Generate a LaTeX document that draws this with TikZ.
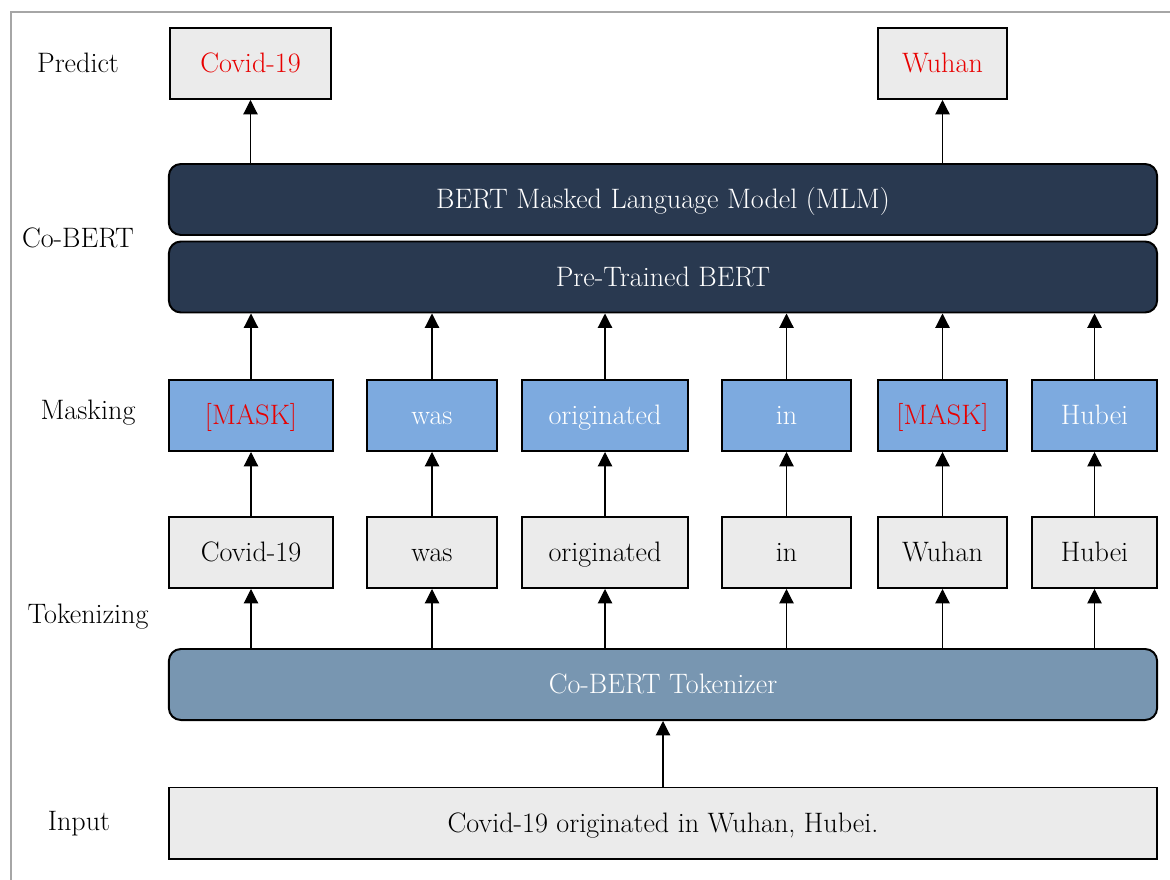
\documentclass[tikz,border=0pt]{standalone}
\usetikzlibrary{arrows.meta}

\definecolor{bertnavy}{RGB}{41,57,80}
\definecolor{maskblue}{RGB}{125,170,223}
\definecolor{tokzrblue}{RGB}{120,150,177}
\definecolor{boxgray}{RGB}{235,235,235}
\definecolor{predred}{RGB}{232,0,0}

\tikzset{
  txt/.style={font=\fontsize{20}{24}\selectfont},
  plainbox/.style={txt, draw=black, line width=1.4pt, fill=boxgray, inner sep=0pt,
    text height=14pt, text depth=0.5pt, minimum height=1.775cm},
  maskbox/.style={plainbox, fill=maskblue, text=white},
  bar/.style={txt, draw=black, line width=1.4pt, rounded corners=0.3cm, inner sep=0pt,
    text height=14pt, text depth=0.5pt, minimum width=24.7cm, minimum height=1.775cm, text=white},
  arr/.style={-{Triangle[width=0.36cm,length=0.36cm]}, line width=0.8pt},
}

\begin{document}
\begin{tikzpicture}[x=0.025cm,y=-0.025cm]
    \useasboundingbox (0,0) rectangle (1170,880);
    \draw[gray!70, line width=1.3pt] (1170,12) -- (11,12) -- (11,880);

    % Stage labels
    \node[txt] (lPredict) at (78,63) {Predict};
    \node[txt] (lCoBert) at (78,238) {Co-BERT};
    \node[txt] (lMasking) at (88,413) {Masking};
    \node[txt] (lTokenizing) at (88,617) {Tokenizing};
    \node[txt] (lInput) at (79,824) {Input};

    % Predictions
    \node[plainbox, minimum width=4.025cm, text=predred] (prd1) at (250.5,63.5) {Covid-19};
    \node[plainbox, minimum width=3.225cm, text=predred] (prd5) at (942.5,63.5) {Wuhan};

    % BERT stack
    \node[bar, fill=bertnavy] (mlm) at (663,199.5) {BERT Masked Language Model (MLM)};
    \node[bar, fill=bertnavy] (ptb) at (663,277) {Pre-Trained BERT};

    % Masking row
    \node[maskbox, minimum width=4.1cm, text=predred] (msk1) at (251,415.5) {[MASK]};
    \node[maskbox, minimum width=3.25cm] (msk2) at (432,415.5) {was};
    \node[maskbox, minimum width=4.15cm] (msk3) at (605,415.5) {originated};
    \node[maskbox, minimum width=3.225cm] (msk4) at (786.5,415.5) {in};
    \node[maskbox, minimum width=3.225cm, text=predred] (msk5) at (942.5,415.5) {[MASK]};
    \node[maskbox, minimum width=3.125cm] (msk6) at (1094.5,415.5) {Hubei};

    % Token row
    \node[plainbox, minimum width=4.1cm] (tok1) at (251,552.5) {Covid-19};
    \node[plainbox, minimum width=3.25cm] (tok2) at (432,552.5) {was};
    \node[plainbox, minimum width=4.15cm] (tok3) at (605,552.5) {originated};
    \node[plainbox, minimum width=3.225cm] (tok4) at (786.5,552.5) {in};
    \node[plainbox, minimum width=3.225cm] (tok5) at (942.5,552.5) {Wuhan};
    \node[plainbox, minimum width=3.125cm] (tok6) at (1094.5,552.5) {Hubei};

    \node[bar, fill=tokzrblue] (tokzr) at (663,684.5) {Co-BERT Tokenizer};
    \node[plainbox, minimum width=24.7cm] (inp) at (663,823) {Covid-19 originated in Wuhan, Hubei.};

    % Arrows
    \draw[arr] (inp.north) -- (tokzr.south);
    \foreach \i in {1,...,6} {
        \draw[arr] (tok\i |- tokzr.north) -- (tok\i.south);
        \draw[arr] (tok\i.north) -- (msk\i.south);
        \draw[arr] (msk\i.north) -- (msk\i |- ptb.south);
    }
    \foreach \i in {1,5} \draw[arr] (prd\i |- mlm.north) -- (prd\i.south);
\end{tikzpicture}
\end{document}
